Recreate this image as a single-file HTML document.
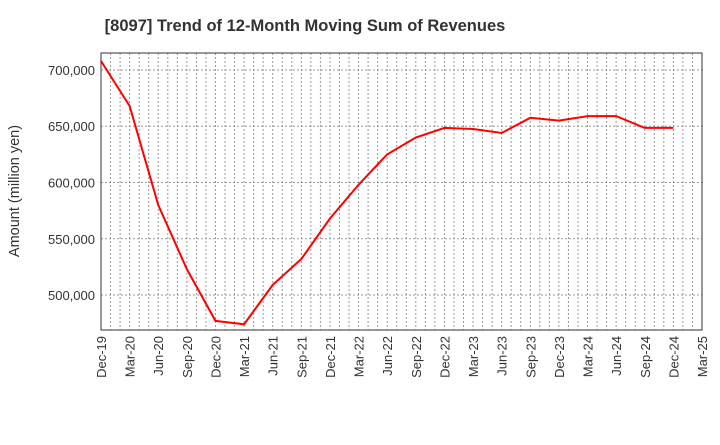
<!DOCTYPE html>
<html><head><meta charset="utf-8"><style>
body{margin:0;background:#fff;font-family:"Liberation Sans",sans-serif}
</style></head><body>
<svg id="c" width="720" height="440" xmlns="http://www.w3.org/2000/svg">
<text x="305" y="31" text-anchor="middle" font-size="16.5" font-weight="bold" fill="#333">[8097]  Trend of 12-Month Moving Sum of Revenues</text>
<text transform="translate(19,191) rotate(-90)" text-anchor="middle" font-size="14.5" fill="#333">Amount (million yen)</text>
<g id="grid"></g><g id="axes"></g><g id="series"></g>
</svg>
<script>
const categories=["Dec-19","Mar-20","Jun-20","Sep-20","Dec-20","Mar-21","Jun-21","Sep-21","Dec-21","Mar-22","Jun-22","Sep-22","Dec-22","Mar-23","Jun-23","Sep-23","Dec-23","Mar-24","Jun-24","Sep-24","Dec-24","Mar-25"];
const revenues=[708000,668000,580000,523000,477000,474000,509000,532000,568000,598000,625000,640000,648500,647500,644000,657500,655000,659000,659000,648500,648500];
const yTicks=[500000,550000,600000,650000,700000];
const L=101,R=702,T=53,B=330,yMin=468900,yMax=715100;
const NS="http://www.w3.org/2000/svg";
const x=i=>L+(R-L)*i/(categories.length-1);
const y=v=>B-(v-yMin)/(yMax-yMin)*(B-T);
function mk(tag,attrs,parent){const e=document.createElementNS(NS,tag);for(const k in attrs)e.setAttribute(k,attrs[k]);document.getElementById(parent).appendChild(e);return e;}
const months=(categories.length-1)*3;
for(let m=1;m<months;m++){const xx=L+(R-L)*m/months;
const g=mk('line',{x1:xx,x2:xx,y1:T,y2:B,stroke:'#999','stroke-dasharray':'2,2','stroke-width':1},'grid');

}
yTicks.forEach(v=>{const g=mk('line',{x1:L,x2:R,y1:y(v),y2:y(v),stroke:'#999','stroke-dasharray':'2,2'},'grid');


const t=mk('text',{x:L-6,y:y(v)+5,'text-anchor':'end','font-size':13,fill:'#333'},'axes');t.textContent=v.toLocaleString('en-US');

});
categories.forEach((c,i)=>{const t=mk('text',{transform:`translate(${x(i)+5},${B+6}) rotate(-90)`,'text-anchor':'end','font-size':13,fill:'#333'},'axes');t.textContent=c;

});
const f=mk('rect',{x:L,y:T,width:R-L,height:B-T,fill:'none',stroke:'#333'},'axes');


const p=mk('polyline',{points:revenues.map((v,i)=>x(i)+','+y(v)).join(' '),fill:'none',stroke:'#f00','stroke-width':2},'series');


</script>
</body></html>
